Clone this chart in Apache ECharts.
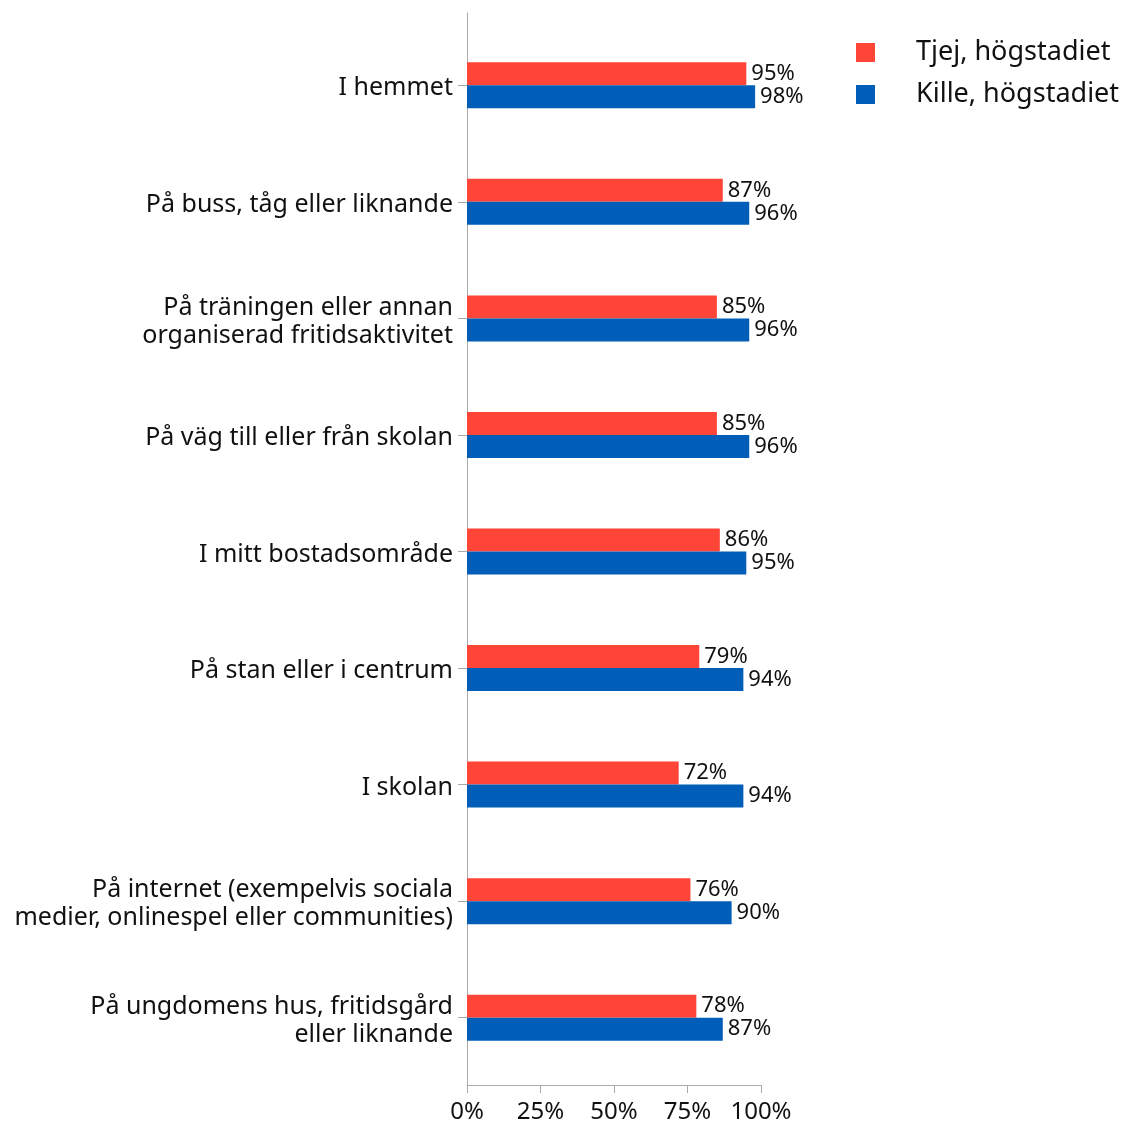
<!DOCTYPE html>
<html>
<head>
<meta charset="utf-8">
<script src="https://cdn.jsdelivr.net/npm/echarts@6/dist/echarts.min.js"></script>
<style>
  html, body { margin: 0; padding: 0; background: #fff; }
  #chart { width: 1132px; height: 1124px; }
</style>
</head>
<body>
<div id="chart"></div>
<script>
// Platser där eleverna känner sig trygga, andel per grupp
const categories = [
  'I hemmet',
  'På buss, tåg eller liknande',
  'På träningen eller annan\norganiserad fritidsaktivitet',
  'På väg till eller från skolan',
  'I mitt bostadsområde',
  'På stan eller i centrum',
  'I skolan',
  'På internet (exempelvis sociala\nmedier, onlinespel eller communities)',
  'På ungdomens hus, fritidsgård\neller liknande'
];
const seriesNames = ['Tjej, högstadiet', 'Kille, högstadiet'];
const tjej = [95, 87, 85, 85, 86, 79, 72, 76, 78];
const kille = [98, 96, 96, 96, 95, 94, 94, 90, 87];
const xTicks = [0, 25, 50, 75, 100];

const FONT = '"Noto Sans", sans-serif';
const RED = '#ff4438';
const BLUE = '#005eb8';

const chart = echarts.init(document.getElementById('chart'), null, { renderer: 'canvas' });

const labelStyle = {
  show: true,
  position: 'right',
  distance: 5,
  color: '#111',
  fontFamily: FONT,
  fontSize: 22,
  formatter: p => p.value + '%'
};

chart.setOption({
  animation: false,
  textStyle: { fontFamily: FONT },
  legend: {
    orient: 'vertical',
    left: 851,
    top: 34,
    itemWidth: 19,
    itemHeight: 19,
    itemGap: 15,
    icon: 'rect',
    textStyle: { fontSize: 27, color: '#111', fontFamily: FONT, padding: [0, 0, 0, 36] },
    data: seriesNames
  },
  grid: [
    // frame grid: axis lines and percentage scale
    { left: 467, top: 13, width: 294, height: 1077 },
    // bar grid: category bands
    { left: 467, top: 27, width: 294, height: 1049 }
  ],
  xAxis: [
    {
      gridIndex: 0,
      type: 'value',
      min: 0,
      max: 100,
      interval: 25,
      axisLine: { show: true, lineStyle: { color: '#aaa', width: 1 } },
      axisTick: { show: true, length: 8, lineStyle: { color: '#aaa' } },
      splitLine: { show: false },
      axisLabel: {
        color: '#111',
        fontSize: 24,
        fontFamily: FONT,
        margin: 15,
        formatter: v => xTicks.includes(v) ? v + '%' : ''
      }
    },
    {
      gridIndex: 1,
      type: 'value',
      min: 0,
      max: 100,
      show: false
    }
  ],
  yAxis: [
    {
      gridIndex: 0,
      type: 'category',
      data: [''],
      axisLine: { show: true, lineStyle: { color: '#aaa', width: 1 } },
      axisTick: { show: false },
      axisLabel: { show: false }
    },
    {
      gridIndex: 1,
      type: 'category',
      inverse: true,
      data: categories,
      axisLine: { show: false },
      axisTick: { show: true, alignWithLabel: true, length: 9, lineStyle: { color: '#aaa' } },
      axisLabel: {
        color: '#111',
        fontSize: 25,
        fontFamily: FONT,
        margin: 14,
        lineHeight: 28,
        align: 'right',
        // nudge label text slightly below the tick
        formatter: v => '{pad|}\n' + v,
        rich: {
          pad: { lineHeight: 6, fontSize: 1 }
        }
      }
    }
  ],
  series: [
    {
      name: seriesNames[0],
      type: 'bar',
      xAxisIndex: 1,
      yAxisIndex: 1,
      data: tjej,
      barWidth: 23,
      barGap: '0%',
      itemStyle: { color: RED },
      label: labelStyle
    },
    {
      name: seriesNames[1],
      type: 'bar',
      xAxisIndex: 1,
      yAxisIndex: 1,
      data: kille,
      barWidth: 23,
      barGap: '0%',
      itemStyle: { color: BLUE },
      label: labelStyle
    }
  ]
});
</script>
</body>
</html>
